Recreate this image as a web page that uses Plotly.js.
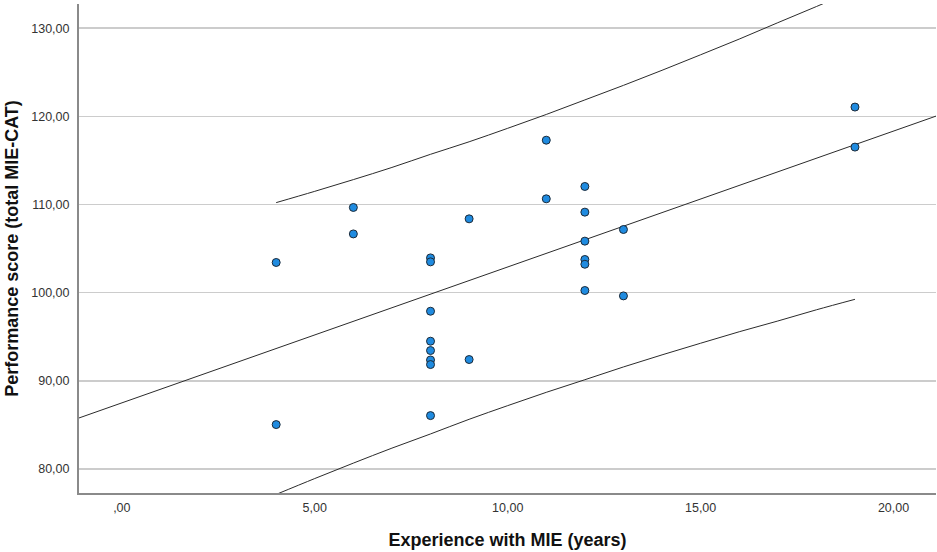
<!DOCTYPE html>
<html>
<head>
<meta charset="utf-8">
<script src="https://cdn.plot.ly/plotly-3.0.1.min.js"></script>
<style>html,body{margin:0;padding:0;background:#fff;}#chart{width:937px;height:552px;}</style>
</head>
<body>
<div id="chart"></div>
<script>
// Observed data: experience (years) vs performance score
const experience = [4, 4, 6, 6, 8, 8, 8, 8, 8, 8, 8, 8, 9, 9, 11, 11, 12, 12, 12, 12, 12, 12, 13, 13, 19, 19];
const performance = [103.43, 85.04, 109.67, 106.67, 103.95, 103.5, 97.9, 94.5, 93.44, 92.37, 91.85, 86.06,
                     108.38, 92.42, 117.3, 110.65, 112.05, 109.14, 105.85, 103.77, 103.23, 100.25,
                     107.17, 99.64, 121.06, 116.52];

// Fit line (at the axis ends)
const fitX = [-2, 22];
const fitY = [84.42, 121.42];

// Prediction interval curves
const piX = [4, 5, 6, 7, 8, 9, 10, 11, 12, 13, 14, 15, 16, 17, 18, 19];
const piUpper = [110.22, 111.50, 112.83, 114.21, 115.70, 117.12, 118.65, 120.22, 121.87, 123.52,
                 125.23, 126.99, 128.77, 130.63, 132.46, 134.35];
const piLower = [77.12, 78.92, 80.67, 82.37, 83.98, 85.64, 87.19, 88.70, 90.13, 91.58,
                 92.95, 94.27, 95.57, 96.79, 98.06, 99.25];

// Tick labels
const xTickVals = [0, 5, 10, 15, 20];
const xTickText = [',00', '5,00', '10,00', '15,00', '20,00'];
const yTickVals = [80, 90, 100, 110, 120, 130];
const yTickText = ['80,00', '90,00', '100,00', '110,00', '120,00', '130,00'];

const lineStyle = {color: '#2b2b2b', width: 1};

const traces = [
  {x: fitX, y: fitY, type: 'scatter', mode: 'lines', line: lineStyle, hoverinfo: 'skip'},
  {x: piX, y: piUpper, type: 'scatter', mode: 'lines', line: Object.assign({shape: 'spline', smoothing: 1}, lineStyle), hoverinfo: 'skip'},
  {x: piX, y: piLower, type: 'scatter', mode: 'lines', line: Object.assign({shape: 'spline', smoothing: 1}, lineStyle), hoverinfo: 'skip'},
  {x: experience, y: performance, type: 'scatter', mode: 'markers', cliponaxis: false,
   marker: {size: 8, color: '#1f8be0', line: {color: '#1c2a38', width: 1}}}
];

const titleFont = {size: 18, color: '#111111', family: 'Liberation Sans, Arial, sans-serif', weight: 'bold'};

const layout = {
  width: 937, height: 552,
  margin: {l: 79, r: 1, t: 4, b: 59},
  paper_bgcolor: '#ffffff', plot_bgcolor: '#ffffff',
  showlegend: false,
  font: {family: 'Liberation Sans, Arial, sans-serif', size: 12, color: '#333333'},
  xaxis: {
    range: [-1.11, 21.1],
    tickvals: xTickVals, ticktext: xTickText,
    showgrid: false, zeroline: false,
    showline: true, linecolor: '#8a8a8a', linewidth: 2,
    ticks: '', ticklabelstandoff: 2,
    tickfont: {size: 12.5, color: '#333333'},
    title: {text: 'Experience with MIE (years)', font: titleFont, standoff: 19}
  },
  yaxis: {
    range: [77.28, 132.75],
    tickvals: yTickVals, ticktext: yTickText,
    showgrid: true, gridcolor: '#cccccc', gridwidth: 1.5,
    zeroline: false,
    showline: true, linecolor: '#8a8a8a', linewidth: 2,
    ticks: '', ticklabelstandoff: 5,
    tickfont: {size: 12.5, color: '#333333'},
    title: {text: 'Performance score (total MIE-CAT)', font: titleFont, standoff: 8}
  }
};

Plotly.newPlot('chart', traces, layout, {displayModeBar: false, staticPlot: true});
</script>
</body>
</html>
